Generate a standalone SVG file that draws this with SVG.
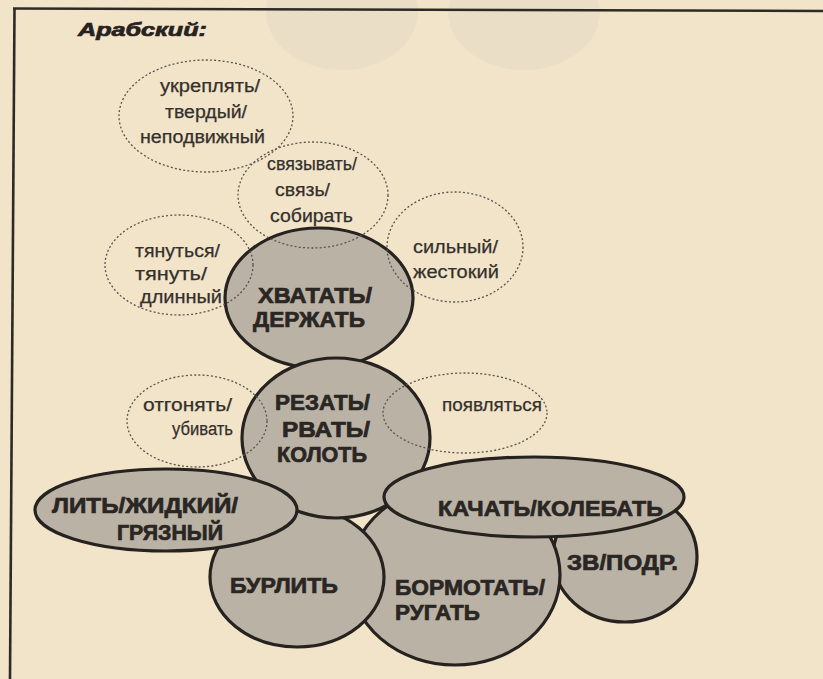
<svg xmlns="http://www.w3.org/2000/svg" width="823" height="679" viewBox="0 0 823 679">
  <style>
    .paper { fill: #f2e4c9; }
    .ghost { fill: #dcd2c2; opacity: 0.28; }
    .frame { stroke: #2e2a26; stroke-width: 2.6; fill: none; }
    .core { fill: #bab2a4; stroke: #26221f; stroke-width: 3.2; }
    .assoc { fill: none; stroke: #58534d; stroke-width: 1.3; stroke-dasharray: 2 2.2; }
    .big { font-family: "Liberation Sans", Arial, sans-serif; font-weight: bold; font-size: 22px; fill: #2a2623; stroke: #2a2623; stroke-width: 0.7; text-anchor: middle; }
    .small { font-family: "Liberation Sans", Arial, sans-serif; font-size: 18px; fill: #34302c; stroke: #34302c; stroke-width: 0.25; text-anchor: middle; }
    .title { font-family: "Liberation Sans", Arial, sans-serif; font-weight: bold; font-style: italic; font-size: 19px; fill: #26221f; stroke: #26221f; stroke-width: 0.7; }
  </style>

  <!-- page background with faint show-through from the reverse side -->
  <rect class="paper" x="0" y="0" width="823" height="679"/>
  <ellipse class="ghost" cx="342" cy="12" rx="76" ry="58"/>
  <ellipse class="ghost" cx="524" cy="12" rx="76" ry="58"/>

  <!-- frame: top and left rules -->
  <line class="frame" x1="13" y1="8.5" x2="823" y2="11"/>
  <line class="frame" x1="14.5" y1="8" x2="10" y2="679"/>

  <text class="title" x="78" y="36" textLength="129" lengthAdjust="spacingAndGlyphs">Арабский:</text>

  <g id="connectors"/>

  <!-- core meanings (filled) -->
  <g id="n-zv">
    <ellipse class="core" cx="625" cy="557" rx="72" ry="65"/>
    <text class="big" x="622.5" y="570" textLength="111" lengthAdjust="spacingAndGlyphs">ЗВ/ПОДР.</text>
  </g>
  <g id="n-bormotat">
    <ellipse class="core" cx="455" cy="575" rx="105" ry="90"/>
    <text class="big" x="470" y="595" textLength="150" lengthAdjust="spacingAndGlyphs">БОРМОТАТЬ/</text>
    <text class="big" x="437.5" y="620" textLength="85" lengthAdjust="spacingAndGlyphs">РУГАТЬ</text>
  </g>
  <g id="n-burlit">
    <ellipse class="core" cx="297" cy="577" rx="87" ry="70"/>
    <text class="big" x="284" y="593" textLength="108" lengthAdjust="spacingAndGlyphs">БУРЛИТЬ</text>
  </g>
  <g id="n-hvatat">
    <ellipse class="core" cx="319" cy="298" rx="94" ry="70"/>
    <text class="big" x="315" y="303" textLength="114" lengthAdjust="spacingAndGlyphs">ХВАТАТЬ/</text>
    <text class="big" x="309" y="327" textLength="112" lengthAdjust="spacingAndGlyphs">ДЕРЖАТЬ</text>
  </g>
  <g id="n-rezat">
    <ellipse class="core" cx="336" cy="438" rx="94" ry="80"/>
    <text class="big" x="322.5" y="410" textLength="95" lengthAdjust="spacingAndGlyphs">РЕЗАТЬ/</text>
    <text class="big" x="326" y="437" textLength="88" lengthAdjust="spacingAndGlyphs">РВАТЬ/</text>
    <text class="big" x="322" y="462" textLength="90" lengthAdjust="spacingAndGlyphs">КОЛОТЬ</text>
  </g>
  <g id="n-lit">
    <ellipse class="core" cx="166" cy="510" rx="131" ry="41"/>
    <text class="big" x="145" y="513" textLength="186" lengthAdjust="spacingAndGlyphs">ЛИТЬ/ЖИДКИЙ/</text>
    <text class="big" x="170" y="540" textLength="106" lengthAdjust="spacingAndGlyphs">ГРЯЗНЫЙ</text>
  </g>
  <g id="n-kachat">
    <ellipse class="core" cx="534" cy="497" rx="150" ry="40"/>
    <text class="big" x="550.5" y="516" textLength="225" lengthAdjust="spacingAndGlyphs">КАЧАТЬ/КОЛЕБАТЬ</text>
  </g>

  <!-- associated meanings (dotted outlines) -->
  <g id="a-ukreplyat">
    <ellipse class="assoc" cx="206" cy="116" rx="87" ry="56"/>
    <text class="small" x="210" y="92" textLength="100" lengthAdjust="spacingAndGlyphs">укреплять/</text>
    <text class="small" x="206" y="118" textLength="82" lengthAdjust="spacingAndGlyphs">твердый/</text>
    <text class="small" x="202.5" y="143" textLength="125" lengthAdjust="spacingAndGlyphs">неподвижный</text>
  </g>
  <g id="a-svyazyvat">
    <ellipse class="assoc" cx="313" cy="195" rx="75" ry="53"/>
    <text class="small" x="312" y="170" textLength="90" lengthAdjust="spacingAndGlyphs">связывать/</text>
    <text class="small" x="302.5" y="196" textLength="55" lengthAdjust="spacingAndGlyphs">связь/</text>
    <text class="small" x="311.5" y="222" textLength="83" lengthAdjust="spacingAndGlyphs">собирать</text>
  </g>
  <g id="a-tyanutsya">
    <ellipse class="assoc" cx="179" cy="265" rx="74" ry="50"/>
    <text class="small" x="177.5" y="257" textLength="85" lengthAdjust="spacingAndGlyphs">тянуться/</text>
    <text class="small" x="171" y="280" textLength="72" lengthAdjust="spacingAndGlyphs">тянуть/</text>
    <text class="small" x="181" y="303" textLength="82" lengthAdjust="spacingAndGlyphs">длинный</text>
  </g>
  <g id="a-silnyi">
    <ellipse class="assoc" cx="455" cy="247" rx="68" ry="55"/>
    <text class="small" x="455.5" y="253" textLength="85" lengthAdjust="spacingAndGlyphs">сильный/</text>
    <text class="small" x="456" y="278" textLength="86" lengthAdjust="spacingAndGlyphs">жестокий</text>
  </g>
  <g id="a-otgonyat">
    <ellipse class="assoc" cx="197" cy="421" rx="70" ry="46"/>
    <text class="small" x="187.5" y="411" textLength="89" lengthAdjust="spacingAndGlyphs">отгонять/</text>
    <text class="small" x="202.5" y="435" textLength="61" lengthAdjust="spacingAndGlyphs">убивать</text>
  </g>
  <g id="a-poyavlyatsya">
    <ellipse class="assoc" cx="465" cy="413" rx="82" ry="40"/>
    <text class="small" x="492" y="411" textLength="100" lengthAdjust="spacingAndGlyphs">появляться</text>
  </g>
</svg>
